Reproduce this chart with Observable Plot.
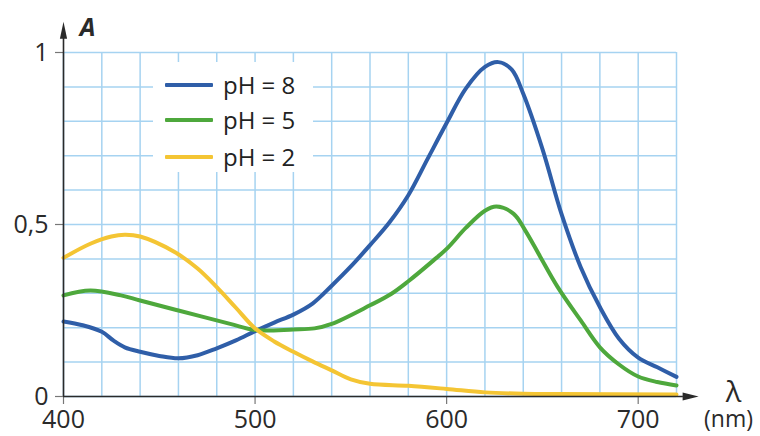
<!DOCTYPE html>
<html>
<head>
<meta charset="utf-8">
<script src="https://cdn.jsdelivr.net/npm/d3@7"></script>
<script src="https://cdn.jsdelivr.net/npm/@observablehq/plot@0.6"></script>
<style>
  html, body { margin: 0; padding: 0; background: #fff; }
  #wrap { position: relative; width: 760px; height: 436px; font-family: "Open Sans", sans-serif; color: #222; }
  #legend { position: absolute; left: 153px; top: 62px; width: 160px; height: 110px; background: #fff; }
  .row { position: absolute; left: 0; height: 30px; display: flex; align-items: center; }
  .sw { display: inline-block; width: 48px; height: 4px; margin-left: 12px; margin-right: 10px; border-radius: 1px; }
  .lab { font-size: 24px; line-height: 30px; white-space: pre; }
</style>
</head>
<body>
<div id="wrap"></div>
<script>
// Wavelengths (nm) and absorbance values
const series = ["pH = 8", "pH = 5", "pH = 2"];
const colors = ["#2f5ea8", "#4ea83c", "#f4c534"];

const nm8 = [400, 410, 420, 426, 432, 440, 450, 460, 470, 480, 490, 500, 510, 520, 530, 540, 550, 560, 570, 580, 590, 600, 610, 620, 627, 634, 640, 650, 660, 670, 680, 690, 700, 710, 720];
const a8  = [0.218, 0.207, 0.188, 0.163, 0.143, 0.13, 0.118, 0.111, 0.12, 0.14, 0.163, 0.19, 0.215, 0.238, 0.27, 0.322, 0.378, 0.44, 0.505, 0.585, 0.69, 0.795, 0.895, 0.958, 0.972, 0.95, 0.88, 0.72, 0.53, 0.376, 0.26, 0.168, 0.113, 0.085, 0.057];

const nm5 = [400, 414, 430, 440, 460, 487, 500, 520, 531, 540, 560, 571, 580, 593, 600, 610, 620, 626, 635, 641, 649, 658, 670, 680, 690, 700, 710, 720];
const a5  = [0.294, 0.308, 0.294, 0.279, 0.25, 0.211, 0.193, 0.195, 0.198, 0.211, 0.265, 0.298, 0.335, 0.395, 0.429, 0.49, 0.54, 0.552, 0.531, 0.483, 0.405, 0.318, 0.221, 0.143, 0.093, 0.058, 0.042, 0.032];

const nm2 = [400, 414, 425, 432, 440, 458, 470, 480, 490, 500, 510, 520, 530, 540, 550, 560, 580, 600, 620, 640, 660, 720];
const a2  = [0.403, 0.444, 0.465, 0.47, 0.465, 0.42, 0.372, 0.318, 0.258, 0.198, 0.16, 0.13, 0.102, 0.076, 0.05, 0.037, 0.031, 0.022, 0.012, 0.008, 0.007, 0.006];

const xTicks = [400, 500, 600, 700];
const yTicks = [0, 0.5, 1];
const yTickLabels = ["0", "0,5", "1"];
const xGrid = d3.range(400, 721, 20);
const yGrid = d3.range(0, 11).map(i => i / 10);

const rows = [];
[[nm8, a8], [nm5, a5], [nm2, a2]].forEach(([xs, ys], k) => {
  xs.forEach((x, i) => rows.push({ nm: x, A: ys[i], s: series[k] }));
});

const axisColor = "#2a2a2a";

const chart = Plot.plot({
  width: 760,
  height: 436,
  marginLeft: 63,
  marginRight: 84,
  marginTop: 52,
  marginBottom: 40,
  style: { fontFamily: "Open Sans, sans-serif", fontSize: "25px", color: axisColor, background: "transparent" },
  x: { domain: [400, 720] },
  y: { domain: [0, 1] },
  color: { domain: series, range: colors },
  marks: [
    Plot.gridX(xGrid, { stroke: "#a6d3f1", strokeOpacity: 1, strokeWidth: 1.5 }),
    Plot.gridY(yGrid, { stroke: "#a6d3f1", strokeOpacity: 1, strokeWidth: 1.5 }),
    Plot.axisX(xTicks, { tickSize: 8, tickPadding: 6, label: null, stroke: "#777", strokeWidth: 1.2, fill: axisColor }),
    Plot.axisY(yTicks, { tickSize: 8, tickPadding: 7, label: null, stroke: "#777", strokeWidth: 1.2, fill: axisColor, tickFormat: d => yTickLabels[yTicks.indexOf(d)] }),
    Plot.line(rows, { x: "nm", y: "A", z: "s", stroke: "s", strokeWidth: 4, curve: "catmull-rom" }),
    // axes with arrow heads
    Plot.ruleY([0], { x1: 400, x2: 723.6, stroke: axisColor, strokeWidth: 1.6 }),
    Plot.ruleX([400], { y1: 0, y2: 1.045, stroke: axisColor, strokeWidth: 1.6 }),
    Plot.vector([0], { x: 723.2, y: 0, length: 16, r: 4, rotate: 90, shape: "spike", anchor: "start", fill: axisColor, stroke: "none" }),
    Plot.vector([0], { x: 400, y: 1.04, length: 17, r: 3.6, rotate: 0, shape: "spike", anchor: "start", fill: axisColor, stroke: "none" }),
    Plot.text(["A"], { frameAnchor: "top-left", textAnchor: "middle", lineAnchor: "middle", dx: 24, dy: -25, fontSize: 25, fontWeight: "bold", fontStyle: "italic", fill: axisColor }),
    Plot.text(["λ"], { frameAnchor: "bottom-right", textAnchor: "middle", lineAnchor: "middle", dx: 57, dy: -4, fontSize: 29, fill: axisColor }),
    Plot.text(["(nm)"], { frameAnchor: "bottom-right", textAnchor: "middle", lineAnchor: "middle", dx: 52, dy: 23, fontSize: 23, fill: axisColor })
  ]
});

const wrap = document.getElementById("wrap");
wrap.appendChild(chart);

const legend = document.createElement("div");
legend.id = "legend";
const rowTops = [8, 43, 80];
series.forEach((s, i) => {
  const r = document.createElement("div");
  r.className = "row";
  r.style.top = rowTops[i] + "px";
  const sw = document.createElement("span");
  sw.className = "sw";
  sw.style.background = colors[i];
  const lab = document.createElement("span");
  lab.className = "lab";
  lab.textContent = s;
  r.appendChild(sw);
  r.appendChild(lab);
  legend.appendChild(r);
});
wrap.appendChild(legend);
</script>
</body>
</html>
